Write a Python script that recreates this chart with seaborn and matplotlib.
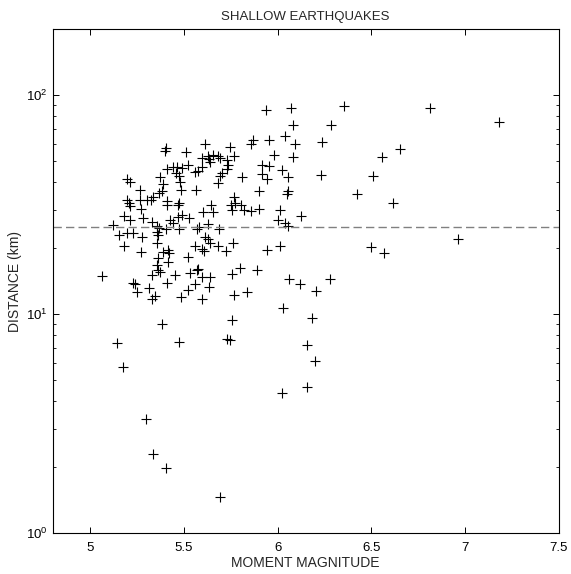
import matplotlib
matplotlib.use("Agg")
import matplotlib.pyplot as plt
import seaborn as sns
import pandas as pd
from matplotlib.ticker import LogLocator, FixedLocator

# ---- data ----
magnitude = [
    5.065, 5.123, 5.155, 5.178, 5.180, 5.195, 5.212, 5.195, 5.209, 5.214,
    5.212, 5.195, 5.227, 5.266, 5.266, 5.269, 5.280, 5.275, 5.270, 5.302,
    5.227, 5.239, 5.248, 5.314,
    5.323, 5.337, 5.369, 5.382, 5.373, 5.387, 5.405, 5.399, 5.511, 5.408,
    5.440, 5.465, 5.488, 5.524, 5.458, 5.476, 5.559, 5.575, 5.479, 5.483,
    5.565, 5.412, 5.408, 5.476, 5.470, 5.328, 5.355, 5.369, 5.426, 5.444,
    5.470, 5.488, 5.529, 5.405, 5.476, 5.572, 5.582, 5.363, 5.355, 5.355,
    5.390, 5.417, 5.422, 5.417, 5.363, 5.355, 5.524, 5.559, 5.328, 5.363,
    5.373, 5.453, 5.533, 5.568, 5.559, 5.408, 5.346, 5.328, 5.482, 5.524,
    5.382,
    5.615, 5.746, 5.769, 5.595, 5.627, 5.634, 5.639, 5.657, 5.684, 5.693,
    5.728, 5.737, 5.594, 5.728, 5.702, 5.693, 5.680, 5.812, 5.858, 5.869,
    5.954, 5.938, 6.072, 6.081, 6.040, 6.093, 5.982, 6.081, 5.915, 5.952,
    5.919, 5.942, 6.021, 6.054, 5.899, 6.057, 6.049, 5.770, 5.645, 5.657,
    5.604, 5.749, 5.757, 5.773, 5.805, 5.821, 5.858, 5.901, 6.013, 6.002,
    6.125, 6.040, 6.053, 5.630, 5.687, 5.613, 5.630, 5.639, 5.595, 5.609,
    5.680, 5.723, 5.764, 5.942, 6.013, 5.574, 5.595, 5.639, 5.799, 5.755,
    5.890, 6.061, 6.120, 5.634, 5.769, 5.835, 5.594, 6.031, 5.755, 6.186,
    5.728, 5.746, 6.155, 6.200, 6.155, 6.025, 5.693, 6.280, 6.205,
    6.356, 6.813, 7.183, 6.283, 6.237, 6.653, 6.556, 6.230, 6.511, 6.422,
    6.617, 6.964, 6.497, 6.568,
    5.142, 5.177, 5.298, 5.334, 5.403, 5.474,
]
distance_km = [
    15.0, 25.6, 23.0, 28.1, 20.5, 41.3, 40.3, 33.1, 32.1, 31.1,
    26.8, 23.4, 23.6, 36.9, 33.4, 30.3, 27.4, 22.6, 19.3, 33.1,
    13.9, 13.7, 12.6, 13.2,
    33.3, 34.2, 35.7, 36.7, 42.5, 39.2, 57.3, 55.7, 55.3, 45.9,
    46.9, 47.2, 46.4, 48.1, 44.0, 42.6, 44.4, 45.1, 40.3, 36.9,
    36.9, 33.0, 31.6, 32.3, 31.4, 26.5, 25.3, 24.7, 27.0, 26.2,
    27.7, 28.4, 27.4, 24.4, 24.4, 24.4, 25.0, 23.0, 23.8, 21.1,
    19.3, 19.7, 19.1, 17.4, 18.0, 16.8, 18.2, 20.4, 15.1, 15.9,
    15.6, 15.1, 15.5, 15.9, 13.8, 13.9, 12.1, 11.7, 12.0, 12.9,
    9.03,
    59.6, 58.3, 52.8, 51.6, 52.8, 51.0, 49.8, 53.4, 52.8, 51.6,
    50.4, 47.8, 46.8, 45.9, 44.0, 42.8, 39.9, 42.2, 60.0, 62.5,
    62.2, 85.7, 87.8, 73.2, 65.2, 59.8, 53.4, 52.1, 47.8, 47.4,
    43.9, 41.5, 45.5, 42.5, 36.6, 36.6, 35.4, 34.3, 31.4, 29.3,
    29.2, 31.6, 29.8, 32.1, 31.7, 29.8, 29.5, 30.2, 29.9, 27.0,
    28.0, 26.0, 25.4, 25.7, 24.4, 22.6, 22.1, 21.1, 19.8, 19.5,
    20.5, 19.5, 21.1, 19.7, 20.5, 16.1, 14.8, 14.8, 16.3, 15.3,
    15.9, 14.5, 13.8, 13.3, 12.3, 12.7, 11.7, 10.7, 9.37, 9.62,
    7.74, 7.63, 7.24, 6.14, 4.67, 4.36, 1.47, 14.5, 12.8,
    89.4, 87.8, 75.5, 73.0, 61.4, 56.7, 52.1, 43.4, 42.8, 35.3,
    32.3, 22.1, 20.2, 19.0,
    7.37, 5.73, 3.32, 2.29, 1.99, 7.45,
]
reference_distance = 25.0
x_ticks = [5, 5.5, 6, 6.5, 7, 7.5]
x_tick_labels = ["5", "5.5", "6", "6.5", "7", "7.5"]
x_limits = (4.8, 7.5)
y_limits = (1, 200)
title_text = "SHALLOW EARTHQUAKES"
x_label = "MOMENT MAGNITUDE"
y_label = "DISTANCE (km)"

df = pd.DataFrame({"magnitude": magnitude, "distance": distance_km})

sns.set_style("ticks")
plt.rcParams["font.family"] = ["Liberation Sans", "DejaVu Sans"]
plt.rcParams["mathtext.fontset"] = "custom"
plt.rcParams["mathtext.rm"] = "Liberation Sans"
plt.rcParams["mathtext.it"] = "Liberation Sans:italic"

fig = plt.figure(figsize=(5.71, 5.74), dpi=100)
ax = fig.add_axes([0.0923, 0.0709, 0.8862, 0.8781])

sns.scatterplot(data=df, x="magnitude", y="distance", marker="+",
                color="black", s=42, linewidth=0.8, ax=ax, legend=False)

ax.axhline(reference_distance, color="#808080", linestyle=(0, (6, 3)),
           linewidth=1.0, zorder=1)

ax.set_yscale("log")
ax.set_xlim(*x_limits)
ax.set_ylim(*y_limits)
ax.xaxis.set_major_locator(FixedLocator(x_ticks))
ax.set_xticklabels(x_tick_labels)
ax.yaxis.set_major_locator(LogLocator(base=10, numticks=10))
ax.yaxis.set_minor_locator(LogLocator(base=10, subs=range(2, 10), numticks=20))

for s in ax.spines.values():
    s.set_visible(True)
    s.set_color("black")
    s.set_linewidth(0.8)

ax.tick_params(which="both", direction="in", top=True, right=True,
               colors="black", labelsize=9.5)
ax.tick_params(which="major", length=4, width=0.7)
ax.tick_params(which="minor", length=2.5, width=0.6)
ax.tick_params(axis="x", pad=6)

ax.set_title(title_text, fontsize=9.5, pad=7)
ax.set_xlabel(x_label, fontsize=10, labelpad=2)
ax.set_ylabel(y_label, fontsize=10, labelpad=3)

fig.savefig("out.png", dpi=100)
